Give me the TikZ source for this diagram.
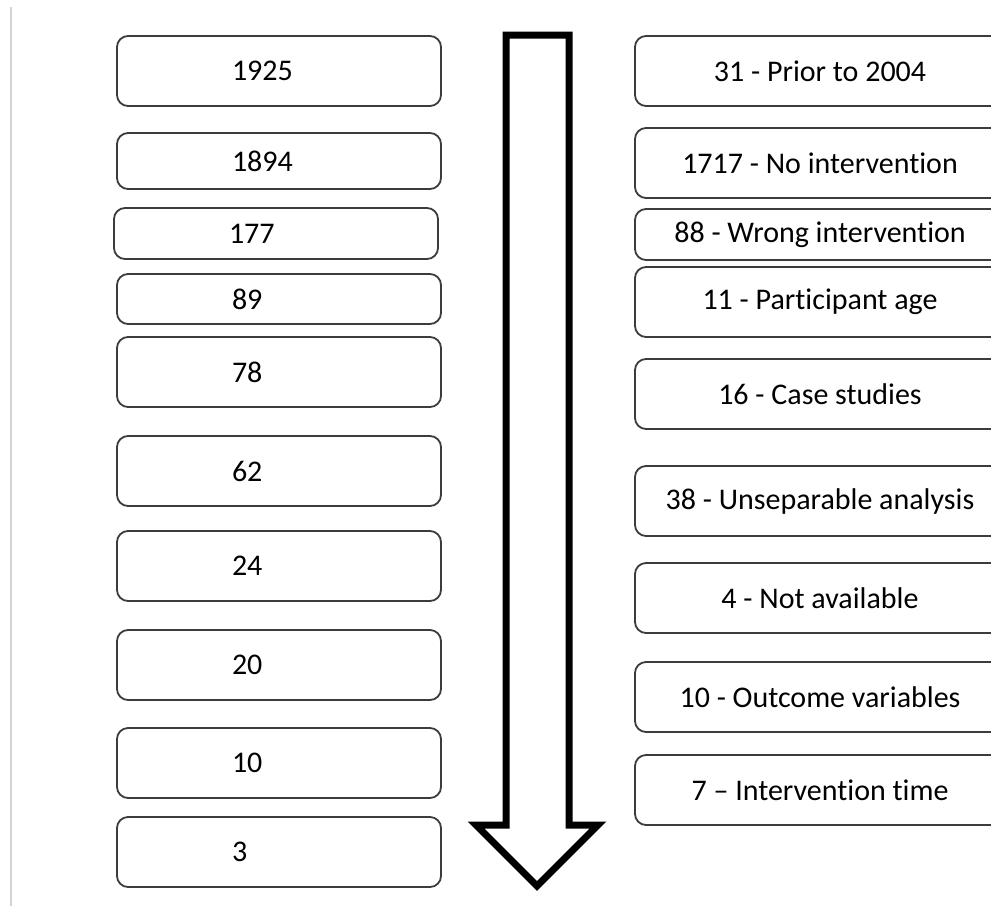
\documentclass[tikz,border=0pt]{standalone}
\usepackage{fontspec}
\setmainfont{Carlito}[Ligatures={NoCommon}]
\usetikzlibrary{positioning}
\definecolor{boxline}{HTML}{3C3C3C}
\definecolor{pageline}{HTML}{D4D4D4}

\begin{document}
\begin{tikzpicture}[
    x=1pt, y=-1pt,
    font=\fontsize{30}{36}\selectfont,
    block/.style={
        draw=boxline,
        line width=1.8pt,
        rounded corners=11pt,
        minimum height=70pt,
        inner ysep=0pt,
        outer sep=0pt
    },
    count/.style={block, text width=94pt, inner xsep=115pt, align=left},
    reason/.style={block, minimum width=370pt, align=center},
    slim/.style={minimum height=#1},
    funnel/.style={draw=black, line width=7pt, miter limit=10}
]

\useasboundingbox (0,0) rectangle (991,906);
\clip (0,0) rectangle (991,906);

\draw[pageline, line width=2pt] (11,7) -- (11,906);

\node[count] (N1925) at (279,71) {1925};
\node[count, slim=56pt, below=27pt of N1925] (N1894) {1894};
\node[count, slim=51pt, below=19pt of N1894, xshift=-3pt] (N177) {177};
\node[count, slim=50pt, below=15pt of N177, xshift=3pt] (N89) {89};
\node[count, below=13pt of N89] (N78) {78};
\node[count, below=29pt of N78] (N62) {62};
\node[count, below=25pt of N62] (N24) {24};
\node[count, below=29pt of N24] (N20) {20};
\node[count, below=28pt of N20] (N10) {10};
\node[count, below=19pt of N10] (N3) {3};

\node[reason, right=194pt of N1925] (Prior) {31 - Prior to 2004};
\node[reason, below=22pt of Prior] (NoInt) {1717 - No intervention};
\node[reason, slim=51pt, below=11pt of NoInt] (WrongInt) {88 - Wrong intervention};
\node[reason, below=7pt of WrongInt] (Age) {11 - Participant age};
\node[reason, below=22pt of Age] (Case) {16 - Case studies};
\node[reason, below=37pt of Case] (Unsep) {38 - Unseparable analysis};
\node[reason, below=27pt of Unsep] (NotAvail) {4 - Not available};
\node[reason, below=29pt of NotAvail] (Outcome) {10 - Outcome variables};
\node[reason, below=23pt of Outcome] (Time) {7 – Intervention time};

\draw[funnel] (506,35) -- (569,35) -- (569,825) -- (598,825) -- (537,886)
    -- (476,825) -- (506,825) -- cycle;

\end{tikzpicture}
\end{document}
